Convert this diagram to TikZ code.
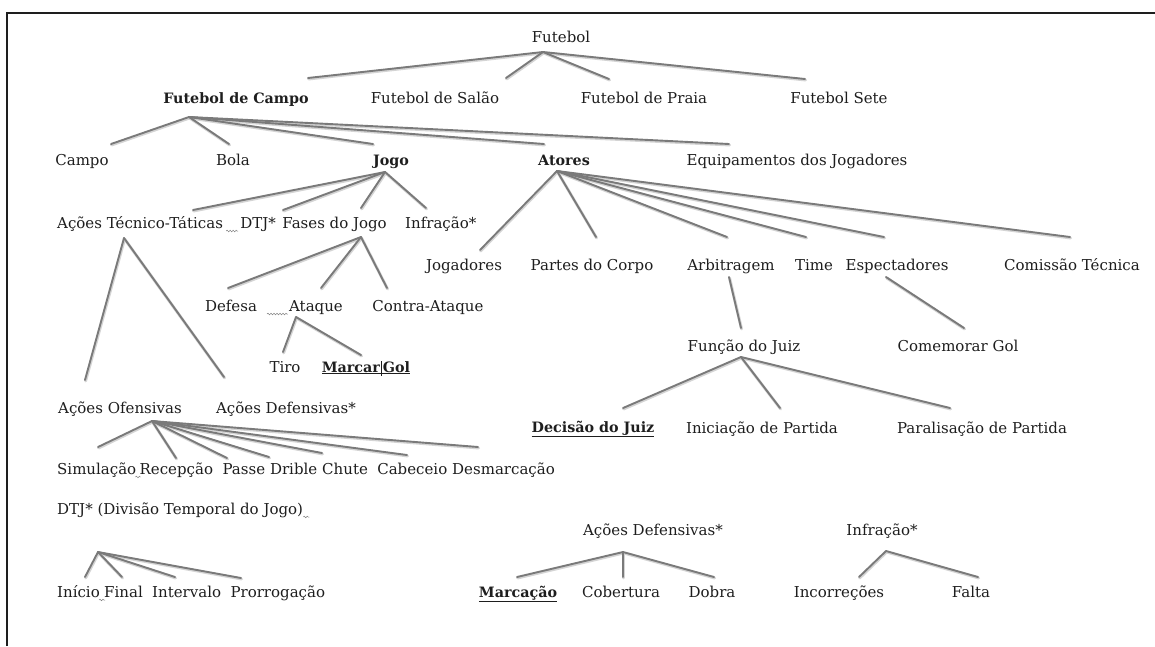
\documentclass[tikz,border=0pt]{standalone}
\usepackage{fontspec}
\setmainfont{DejaVu Serif}
\usetikzlibrary{decorations.pathmorphing}
\definecolor{ink}{RGB}{30,30,30}
\definecolor{linkgray}{RGB}{122,122,122}
\definecolor{linkshadow}{RGB}{212,212,212}
\newcommand{\lblfont}{\fontsize{15}{17}\selectfont}
\newcommand{\keyfont}{\fontsize{14.3}{17}\selectfont\bfseries}
\begin{document}
\begin{tikzpicture}[x=1pt,y=-1pt,
  lbl/.style={anchor=base, inner sep=0pt, text=ink, font=\lblfont},
  key/.style={lbl, font=\keyfont},
  link/.style={draw=linkgray, line width=1.9pt, line cap=round},
  linkback/.style={draw=linkshadow, line width=2.9pt, line cap=round},
  squig/.style={draw=gray, line width=0.5pt, decorate,
    decoration={snake, amplitude=0.8pt, segment length=3pt}}]
\useasboundingbox (0,0) rectangle (1155,646);
\fill[white] (0,0) rectangle (1155,646);
% outer frame (top and left edges)
\draw[ink, line width=1.7pt] (7,646) -- (7,13) -- (1155,13);

% ---------- labels ----------
\node[lbl] (fut) at (561,42) {Futebol};
\node[key] (fc) at (236,103) {Futebol de Campo};
\node[lbl] (fs) at (435,103) {Futebol de Salão};
\node[lbl] (fp) at (644,103) {Futebol de Praia};
\node[lbl] (f7) at (839,103) {Futebol Sete};

\node[lbl] (campo) at (82,165) {Campo};
\node[lbl] (bola) at (233,165) {Bola};
\node[key] (jogo) at (391,165) {Jogo};
\node[key] (atores) at (564,165) {Atores};
\node[lbl] (equip) at (797,165) {Equipamentos dos Jogadores};

\node[lbl, anchor=base west] (att) at (57,228) {Ações Técnico-Táticas};
\node[lbl, anchor=base west] (dtj) at ([xshift=17pt]att.base east) {DTJ*};
\node[lbl, anchor=base west] (fases) at ([xshift=6pt]dtj.base east) {Fases do Jogo};
\node[lbl, anchor=base west] (infr) at ([xshift=18pt]fases.base east) {Infração*};

\node[lbl] (jogad) at (464,270) {Jogadores};
\node[lbl] (partes) at (592,270) {Partes do Corpo};
\node[lbl] (arb) at (731,270) {Arbitragem};
\node[lbl] (time) at (814,270) {Time};
\node[lbl] (espec) at (897,270) {Espectadores};
\node[lbl] (comis) at (1072,270) {Comissão Técnica};

\node[lbl] (defesa) at (231,311) {Defesa};
\node[lbl] (ataque) at (316,311) {Ataque};
\node[lbl] (contra) at (428,311) {Contra-Ataque};

\node[lbl] (tiro) at (285,372) {Tiro};
\node[key] (marcar) at (366,372)
  {\underline{Marcar\kern0.6pt\smash{\rule[-3.5pt]{0.8pt}{15pt}}\kern1.6pt Gol}};

\node[lbl] (funcao) at (744,351) {Função do Juiz};
\node[lbl] (comem) at (958,351) {Comemorar Gol};

\node[lbl] (aof) at (120,413) {Ações Ofensivas};
\node[lbl] (adf) at (286,413) {Ações Defensivas*};

\node[key] (decis) at (593,432) {\underline{Decisão do Juiz}};
\node[lbl] (inic) at (762,433) {Iniciação de Partida};
\node[lbl] (paral) at (982,433) {Paralisação de Partida};

\node[lbl, anchor=base west] (simul) at (57,474) {Simulação};
\node[lbl, anchor=base west] (recep) at ([xshift=3pt]simul.base east) {Recepção};
\node[lbl, anchor=base west] (passe) at ([xshift=9pt]recep.base east) {Passe};
\node[lbl, anchor=base west] (drible) at ([xshift=4.5pt]passe.base east) {Drible};
\node[lbl, anchor=base west] (chute) at ([xshift=4.5pt]drible.base east) {Chute};
\node[lbl, anchor=base west] (cabec) at ([xshift=9pt]chute.base east) {Cabeceio};
\node[lbl, anchor=base west] (desm) at ([xshift=4.5pt]cabec.base east) {Desmarcação};

\node[lbl, anchor=base west] (dtjfull) at (57,514) {DTJ* (Divisão Temporal do Jogo)};
\node[lbl] (adf2) at (653,535) {Ações Defensivas*};
\node[lbl] (infr2) at (882,535) {Infração*};

\node[lbl, anchor=base west] (inicio) at (57,597) {Início};
\node[lbl, anchor=base west] (final) at ([xshift=4pt]inicio.base east) {Final};
\node[lbl, anchor=base west] (interv) at ([xshift=9pt]final.base east) {Intervalo};
\node[lbl, anchor=base west] (prorr) at ([xshift=9pt]interv.base east) {Prorrogação};
\node[key] (marcac) at (518,597) {\underline{Marcação}};
\node[lbl] (cobert) at (621,597) {Cobertura};
\node[lbl] (dobra) at (712,597) {Dobra};
\node[lbl] (incorr) at (839,597) {Incorreções};
\node[lbl] (falta) at (971,597) {Falta};

% ---------- connector ends ----------
% hubs below parents
\coordinate (fut-h) at (543,52);
\coordinate (fc-h) at (189,117);
\coordinate (jogo-h) at (385,172);
\coordinate (atores-h) at (557,171);
\coordinate (att-h) at (124,238);
\coordinate (fases-h) at (361,237);
\coordinate (ataque-h) at (296,317);
\coordinate (arb-h) at (729,277);
\coordinate (espec-h) at (886,277);
\coordinate (funcao-h) at (741,357);
\coordinate (aof-h) at (152,421);
\coordinate (dtjfull-h) at (98,552);
\coordinate (adf2-h) at (623,552);
\coordinate (infr2-h) at (886,551);
% tops above children
\coordinate (fc-t) at (308,78);
\coordinate (fs-t) at (506,78);
\coordinate (fp-t) at (609,79);
\coordinate (f7-t) at (805,79);
\coordinate (campo-t) at (111,144);
\coordinate (bola-t) at (229,144);
\coordinate (jogo-t) at (373,144);
\coordinate (atores-t) at (544,144);
\coordinate (equip-t) at (729,144);
\coordinate (att-t) at (193,210);
\coordinate (dtj-t) at (283,210);
\coordinate (fases-t) at (361,208);
\coordinate (infr-t) at (426,208);
\coordinate (jogad-t) at (480,250);
\coordinate (partes-t) at (596,237);
\coordinate (arb-t) at (727,237);
\coordinate (time-t) at (806,237);
\coordinate (espec-t) at (884,237);
\coordinate (comis-t) at (1070,237);
\coordinate (aof-t) at (85,380);
\coordinate (adf-t) at (224,377);
\coordinate (defesa-t) at (228,288);
\coordinate (ataque-t) at (321,288);
\coordinate (contra-t) at (387,288);
\coordinate (tiro-t) at (283,352);
\coordinate (marcar-t) at (361,355);
\coordinate (funcao-t) at (741,328);
\coordinate (comem-t) at (964,328);
\coordinate (decis-t) at (623,408);
\coordinate (inic-t) at (780,408);
\coordinate (paral-t) at (950,408);
\coordinate (simul-t) at (98,447);
\coordinate (recep-t) at (176,458);
\coordinate (passe-t) at (227,458);
\coordinate (drible-t) at (269,457);
\coordinate (chute-t) at (322,453);
\coordinate (cabec-t) at (407,455);
\coordinate (desm-t) at (478,447);
\coordinate (inicio-t) at (85,577);
\coordinate (final-t) at (122,577);
\coordinate (interv-t) at (175,577);
\coordinate (prorr-t) at (241,578);
\coordinate (marcac-t) at (517,577);
\coordinate (cobert-t) at (623,577);
\coordinate (dobra-t) at (714,577);
\coordinate (incorr-t) at (859,577);
\coordinate (falta-t) at (978,577);

% ---------- connectors ----------
\def\edgelist{fut/fc, fut/fs, fut/fp, fut/f7,
  fc/campo, fc/bola, fc/jogo, fc/atores, fc/equip,
  jogo/att, jogo/dtj, jogo/fases, jogo/infr,
  atores/jogad, atores/partes, atores/arb, atores/time, atores/espec, atores/comis,
  att/aof, att/adf,
  fases/defesa, fases/ataque, fases/contra,
  ataque/tiro, ataque/marcar,
  arb/funcao, espec/comem,
  funcao/decis, funcao/inic, funcao/paral,
  aof/simul, aof/recep, aof/passe, aof/drible, aof/chute, aof/cabec, aof/desm,
  dtjfull/inicio, dtjfull/final, dtjfull/interv, dtjfull/prorr,
  adf2/marcac, adf2/cobert, adf2/dobra,
  infr2/incorr, infr2/falta}
% soft shadow under each connector, then the connector itself
\foreach \p/\c in \edgelist
  {\draw[linkback] ([shift={(0.6,1.0)}]\p-h) -- ([shift={(0.6,1.0)}]\c-t);}
\foreach \p/\c in \edgelist
  {\draw[link] (\p-h) -- (\c-t);}

% ---------- proofing marks ----------
\draw[squig] ([xshift=3pt,yshift=-3pt]att.base east) -- ([xshift=-2pt,yshift=-3pt]dtj.base west);
\draw[squig] ([xshift=-22pt,yshift=-3pt]ataque.base west) -- ([xshift=-1pt,yshift=-3pt]ataque.base west);
\draw[squig] ([xshift=-1pt,yshift=-3pt]simul.base east) -- ([xshift=1pt,yshift=-3pt]recep.base west);
\draw[squig] ([xshift=-1pt,yshift=-3pt]inicio.base east) -- ([xshift=1pt,yshift=-3pt]final.base west);
\draw[squig] ([xshift=0pt,yshift=-3pt]dtjfull.base east) -- ([xshift=6pt,yshift=-3pt]dtjfull.base east);
\end{tikzpicture}
\end{document}
